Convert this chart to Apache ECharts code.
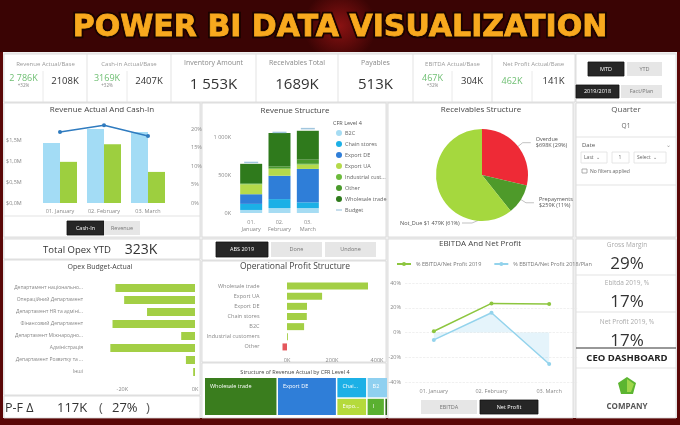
<!DOCTYPE html>
<html><head><meta charset="utf-8">
<script src="https://cdn.jsdelivr.net/npm/echarts@6/dist/echarts.min.js"></script>
<style>html,body{margin:0;padding:0;background:#5a0707;}#c{width:680px;height:425px;}</style>
</head><body><div id="c"></div>
<script>
// ---------- DATA ----------
const months = ['01. January', '02. February', '03. March'];
const revenueActual = [1.43, 1.76, 1.69];          // $M
const cashIn = [0.98, 1.40, 0.74];                 // $M
const revenueGrowthPct = [19.2, 21.0, 18.1];       // %

const rsNames = ['B2C', 'Chain stores', 'Export DE', 'Export UA', 'Industrial customers', 'Other', 'Wholesale trade'];
const rsB2C = [40, 65, 65];
const rsChain = [80, 118, 75];
const rsExportDE = [127, 307, 440];
const rsExportUA = [130, 88, 57];
const rsIndustrial = [5, 10, 10];
const rsOther = [10, 25, 55];
const rsWholesale = [255, 440, 380];
const rsBudget = [665, 1060, 1110];

const recNames = ['Overdue', 'Prepayments', 'Not_Due'];
const recValues = [698, 259, 1479];

const opexDepts = ['Департамент національно...', 'Операційний Департамент', 'Департамент HR та адміні...', 'Фінансовий Департамент', 'Департамент Міжнародно...', 'Адміністрація', 'Департамент Розвитку та ...', 'Інші'];
const opexDelta = [-21.9, -19.5, -13.2, -22.7, -3.8, -23.3, -2.5, -0.5];

const opCats = ['Wholesale trade', 'Export UA', 'Export DE', 'Chain stores', 'B2C', 'Industrial customers', 'Other'];
const opProfit = [360, 156, 89, 88, 76, 4, -20];

const tmNames = ['Wholesale trade', 'Export DE', 'Chain stores', 'Export UA', 'B2C', 'Industrial customers', 'Other'];
const tmValues = [1072, 873, 240, 204, 166, 120, 21];

const ebitda2019 = [1, 23.5, 23];
const ebitda2018 = [-6, 16, -25.5];

const kpiTitles = ['Revenue Actual/Base', 'Cash-in Actual/Base', 'Inventory Amount', 'Receivables Total', 'Payables', 'EBITDA Actual/Base', 'Net Profit Actual/Base'];
const kpiActual = ['2 786K', '3169K', '1 553K', '1689K', '513K', '467K', '462K'];
const kpiBase = ['2108K', '2407K', '', '', '', '304K', '141K'];
const kpiDelta = ['+32%', '+32%', '', '', '', '+32%', ''];
const sideTitles = ['Gross Margin', 'Ebitda 2019, %', 'Net Profit 2019, %'];
const sideValues = ['29%', '17%', '17%'];

// ---------- HELPERS ----------
const FF = "'Open Sans','Noto Sans',sans-serif";
function txt(x, y, s, size, color, o) {
  o = o || {};
  return { type: 'text', x: x, y: y, z: 10, silent: true,
    style: { text: s, fontSize: size, fill: color, fontFamily: o.ff || FF, fontWeight: o.fw || 'normal',
      align: o.al || 'center', verticalAlign: 'middle', textAlign: o.al || 'center', textVerticalAlign: 'middle' } };
}
function rect(x, y, w, h, fill, stroke) {
  return { type: 'rect', z: 0, silent: true, shape: { x: x, y: y, width: w, height: h },
    style: { fill: fill, stroke: stroke || null, lineWidth: stroke ? 0.8 : 0 } };
}
function ln(x1, y1, x2, y2, c, w) {
  return { type: 'line', z: 1, silent: true, shape: { x1: x1, y1: y1, x2: x2, y2: y2 }, style: { stroke: c || '#dcdcdc', lineWidth: w || 0.8 } };
}
function btn(x, y, w, h, label, dark) {
  return [rect(x, y, w, h, dark ? '#262626' : '#e6e6e6', dark ? '#111' : null), txt(x + w / 2, y + h / 2, label, 5.5, dark ? '#fff' : '#777')];
}
function kfmt(v) {
  v = Math.round(v);
  if (Math.abs(v) >= 1000) return Math.floor(v / 1000) + ' ' + String(v % 1000).padStart(3, '0');
  return String(v);
}

// ---------- GRAPHIC (frame, cards, texts) ----------
const G = [];
G.push({ type: 'rect', z: 0, silent: true, shape: { x: 0, y: 0, width: 680, height: 52 },
  style: { fill: new echarts.graphic.RadialGradient(0.5, 0.5, 0.7, [{ offset: 0, color: '#8a1212' }, { offset: 1, color: '#3a0404' }]) } });
const titleStyle = { text: 'POWER BI DATA VISUALIZATION', fontSize: 30, fontWeight: 'bold', fontFamily: "'DejaVu Sans',sans-serif",
  align: 'center', verticalAlign: 'middle', textAlign: 'center', textVerticalAlign: 'middle' };
G.push({ type: 'text', x: 340, y: 28, z: 9, silent: true,
  style: Object.assign({}, titleStyle, { fill: '#2a0600', stroke: '#1a0300', lineWidth: 4.5, shadowBlur: 6, shadowColor: 'rgba(0,0,0,0.9)', shadowOffsetY: 2 }) });
G.push({ type: 'text', x: 340, y: 28, z: 10, silent: true,
  style: Object.assign({}, titleStyle, { fill: '#f8a91e', stroke: '#f6a71c', lineWidth: 0.8 }) });
G.push(rect(3, 52, 674, 366, '#efefef'));

// KPI row
G.push(rect(4, 54, 571, 48, '#fff', '#d6d6d6'));
[87, 171, 256, 338, 413, 492].forEach(function (x) { G.push(ln(x, 54, x, 102)); });
[43, 127, 452, 532].forEach(function (x) { G.push(ln(x, 71, x, 102, '#e4e4e4')); });
const kpiSplit = [[4, 87, 43], [87, 171, 127], null, null, null, [413, 492, 452], [492, 575, 532]];
const kpiBox = [[4, 87], [87, 171], [171, 256], [256, 338], [338, 413], [413, 492], [492, 575]];
kpiTitles.forEach(function (t, i) {
  const b = kpiBox[i];
  const s = kpiSplit[i];
  if (s) {
    G.push(txt((b[0] + b[1]) / 2, 64, t, 6, '#9a9a9a'));
    const cA = (s[0] + s[2]) / 2, cB = (s[2] + s[1]) / 2;
    G.push(txt(cA, kpiDelta[i] ? 78 : 81, kpiActual[i], 9, '#6fbf73'));
    if (kpiDelta[i]) G.push(txt(cA, 85.5, kpiDelta[i], 4.5, '#888'));
    G.push(txt(cB, 81, kpiBase[i], 9.5, '#333'));
  } else {
    G.push(txt((b[0] + b[1]) / 2, 63, t, 7, '#8a8a8a'));
    G.push(txt((b[0] + b[1]) / 2, 85, kpiActual[i], 15, '#333'));
  }
});
// top-right buttons
G.push(rect(576, 54, 100, 48, '#fff', '#d6d6d6'));
G.push.apply(G, btn(588, 62, 36, 14, 'MTD', true));
G.push.apply(G, btn(627, 62, 35, 14, 'YTD', false));
G.push.apply(G, btn(576, 85, 43, 13, '2019/2018', true));
G.push.apply(G, btn(621, 85, 41, 13, 'Fact/Plan', false));

// Row 2 panels
G.push(rect(4, 103, 196, 134, '#fff', '#d6d6d6'));
G.push(ln(4, 216, 200, 216));
G.push.apply(G, btn(67, 221, 37, 14, 'Cash-In', true));
G.push.apply(G, btn(104, 221, 36, 14, 'Revenue', false));
G.push(txt(102, 110, 'Revenue Actual And Cash-In', 8, '#444'));
G.push(rect(202, 103, 184, 134, '#fff', '#d6d6d6'));
G.push(txt(295, 111, 'Revenue Structure', 8, '#444'));
G.push(txt(333, 123, 'CFR Level 4', 5.5, '#555', { al: 'left' }));
G.push(rect(388, 103, 185, 134, '#fff', '#d6d6d6'));
G.push(txt(481, 110, 'Receivables Structure', 8, '#444'));
G.push(rect(576, 103, 100, 134, '#fff', '#d6d6d6'));
G.push(txt(626, 110, 'Quarter', 8, '#555'));
G.push(txt(626, 126, 'Q1', 6.5, '#666'));
G.push(ln(576, 137, 676, 137));
G.push(txt(582, 145, 'Date', 6, '#555', { al: 'left' }));
G.push(txt(668, 145, '⌄', 6, '#999'));
G.push(rect(581, 152, 26, 11, '#fff', '#e0e0e0'));
G.push(txt(584, 157.5, 'Last  ⌄', 5, '#666', { al: 'left' }));
G.push(rect(612, 152, 17, 11, '#fff', '#e0e0e0'));
G.push(txt(620, 157.5, '1', 5, '#666'));
G.push(rect(634, 152, 32, 11, '#fff', '#e0e0e0'));
G.push(txt(637, 157.5, 'Select  ⌄', 5, '#666', { al: 'left' }));
G.push(rect(582, 169, 5, 4, '#fff', '#999'));
G.push(txt(590, 171.5, 'No filters applied', 5, '#666', { al: 'left' }));
G.push(ln(576, 185, 676, 185));

// Row 3 left
G.push(rect(4, 239, 196, 20, '#fff', '#d6d6d6'));
G.push(txt(77, 250, 'Total Opex YTD', 9.5, '#333'));
G.push(txt(141, 250, '323K', 14, '#333'));
G.push(rect(4, 260, 196, 135, '#fff', '#d6d6d6'));
G.push(txt(100, 267, 'Opex Budget-Actual', 7, '#444'));
G.push(rect(4, 396, 196, 22, '#fff', '#d6d6d6'));
G.push(txt(5, 408, 'P-F Δ', 12.5, '#333', { al: 'left' }));
G.push(txt(57, 408, '117K', 13, '#333', { al: 'left' }));
G.push(txt(101, 408, '(', 13, '#555'));
G.push(txt(112, 408, '27%', 13, '#333', { al: 'left' }));
G.push(txt(148, 408, ')', 13, '#555'));

// Row 3 middle
G.push(rect(202, 239, 184, 21, '#fff', '#d6d6d6'));
G.push.apply(G, btn(216, 242, 52, 15, 'ABS 2019', true));
G.push.apply(G, btn(271, 242, 51, 15, 'Done', false));
G.push.apply(G, btn(325, 242, 51, 15, 'Undone', false));
G.push(rect(202, 261, 184, 101, '#fff', '#d6d6d6'));
G.push(txt(295, 267, 'Operational Profit Structure', 8.5, '#444'));
G.push(rect(202, 363, 184, 55, '#fff', '#d6d6d6'));
G.push(txt(295, 372, 'Structure of Revenue Actual by CFR Level 4', 5.5, '#444'));

// Row 3 EBITDA
G.push(rect(388, 239, 185, 179, '#fff', '#d6d6d6'));
G.push(txt(480, 244, 'EBITDA And Net Profit', 8, '#444'));
G.push.apply(G, btn(421, 400, 56, 14, 'EBITDA', false));
G.push.apply(G, btn(480, 400, 58, 14, 'Net Profit', true));

// Row 3 right
G.push(rect(576, 239, 100, 179, '#fff', '#d6d6d6'));
sideTitles.forEach(function (t, i) {
  const y0 = [245, 283, 322][i];
  G.push(txt(627, y0, t, 6.5, '#aaa'));
  G.push(txt(627, y0 + 19, sideValues[i], 17, '#333'));
});
G.push(ln(576, 275, 676, 275));
G.push(ln(576, 312, 676, 312));
G.push(ln(576, 348, 676, 348, '#333', 1.2));
G.push(txt(627, 358, 'CEO DASHBOARD', 9.5, '#222', { fw: 'bold' }));
G.push(ln(576, 368, 676, 368));
// logo
G.push({ type: 'polygon', z: 5, silent: true, shape: { points: [[627, 377], [636, 383], [633, 394], [621, 394], [618, 383]] }, style: { fill: '#5cb531' } });
G.push({ type: 'polygon', z: 6, silent: true, shape: { points: [[627, 379], [634, 384], [631, 392], [627, 392]] }, style: { fill: '#9ed64a' } });
G.push(ln(622, 386, 632, 386, '#fff', 0.8));
G.push(ln(621, 390, 633, 390, '#fff', 0.8));
G.push(ln(627, 378, 627, 394, '#fff', 0.6));
G.push(txt(627, 407, 'COMPANY', 8, '#555', { fw: 'bold' }));

// ---------- CHART ----------
const AX = { fontSize: 5.5, color: '#888', fontFamily: FF };
const chart = echarts.init(document.getElementById('c'), null, { renderer: 'canvas' });
const rsColors = ['#a6dcf3', '#1cb0e6', '#2f7ed8', '#b5da4a', '#6cbb3c', '#4a9a2c', '#2f7a1c'];
const rsData = [rsB2C, rsChain, rsExportDE, rsExportUA, rsIndustrial, rsOther, rsWholesale];

const series = [
  { type: 'bar', name: 'Revenue', xAxisIndex: 0, yAxisIndex: 0, data: revenueActual, barWidth: 17, barGap: '0%', itemStyle: { color: '#a3dcf5' } },
  { type: 'bar', name: 'Cash-In', xAxisIndex: 0, yAxisIndex: 0, data: cashIn, barWidth: 17, itemStyle: { color: '#9dcf3f' } },
  { type: 'line', name: 'Growth %', xAxisIndex: 0, yAxisIndex: 1, data: revenueGrowthPct, symbol: 'circle', symbolSize: 4, itemStyle: { color: '#2f7bbf' }, lineStyle: { width: 1.5, color: '#2f7bbf' } }
];
rsNames.forEach(function (n, i) {
  series.push({ type: 'bar', name: n, stack: 'rs', xAxisIndex: 1, yAxisIndex: 2, data: rsData[i], barWidth: 22, itemStyle: { color: rsColors[i] } });
});
series.push({ type: 'scatter', name: 'Budget', xAxisIndex: 1, yAxisIndex: 2, data: rsBudget, symbol: 'rect', symbolSize: [14, 1.5], itemStyle: { color: '#8ab8d6' }, z: 5 });
series.push({ type: 'bar', name: 'Opex', xAxisIndex: 2, yAxisIndex: 3, data: opexDelta, barWidth: 8, itemStyle: { color: '#a3cf45' } });
series.push({ type: 'bar', name: 'Operational Profit', xAxisIndex: 3, yAxisIndex: 4, barWidth: 7,
  data: opProfit.map(function (v) { return { value: v, itemStyle: { color: v < 0 ? '#e4575c' : '#a3cf45' } }; }) });
series.push({ type: 'line', name: '% EBITDA/Net Profit 2019', xAxisIndex: 4, yAxisIndex: 5, data: ebitda2019, symbol: 'circle', symbolSize: 4,
  itemStyle: { color: '#8dc63f' }, lineStyle: { width: 1.5, color: '#8dc63f' }, z: 4 });
series.push({ type: 'line', name: '% EBITDA/Net Profit 2018/Plan', xAxisIndex: 4, yAxisIndex: 5, data: ebitda2018, symbol: 'circle', symbolSize: 4,
  itemStyle: { color: '#93d3ec' }, lineStyle: { width: 1.5, color: '#93d3ec' }, areaStyle: { color: 'rgba(160,215,240,0.4)' } });
series.push({ type: 'pie', name: 'Receivables', center: [482, 175], radius: 46, startAngle: 90,
  data: recNames.map(function (n, i) { return { name: n, value: recValues[i], itemStyle: { color: ['#ee2a36', '#4e9a2a', '#a5d83e'][i] } }; }),
  label: { fontSize: 5.5, color: '#555', fontFamily: FF,
    formatter: function (p) { const s = '$' + kfmt(p.value) + 'K (' + Math.round(p.percent) + '%)'; return p.dataIndex === 2 ? p.name + ' ' + s : p.name + '\n' + s; } },
  labelLine: { length: 6, length2: 8, lineStyle: { color: '#999', width: 0.6 } },
  labelLayout: function (p) {
    if (p.dataIndex === 2) {
      return { x: 400, y: 223, align: 'left', verticalAlign: 'middle',
        labelLinePoints: [[462, 223], [472, 223], [478, 220.5]] };
    }
    return {};
  } });
series.push({ type: 'treemap', name: 'CFR', left: 205, top: 378, width: 182, height: 37, roam: false, nodeClick: false,
  breadcrumb: { show: false }, itemStyle: { gapWidth: 1.5, borderWidth: 0 },
  label: { show: true, position: 'insideTopLeft', fontSize: 5.5, color: '#fff', fontFamily: FF, overflow: 'truncate', ellipsis: '...' },
  data: tmNames.map(function (n, i) { return { name: n, value: tmValues[i], itemStyle: { color: ['#3a7d1e', '#2f7ed8', '#1cb0e6', '#b5da3c', '#8fd0f0', '#5ab030', '#2f6a1a'][i] } }; }) });

chart.setOption({
  animation: false,
  textStyle: { fontFamily: FF },
  graphic: { elements: G },
  grid: [
    { left: 38, right: 510, top: 119, bottom: 222 },
    { left: 237, right: 358, top: 118, bottom: 212 },
    { left: 86, right: 485, top: 282, bottom: 47 },
    { left: 264.5, right: 303, top: 281, bottom: 73 },
    { left: 405, right: 102, top: 283, bottom: 43 }
  ],
  xAxis: [
    { gridIndex: 0, type: 'category', data: months, axisLine: { show: false }, axisTick: { show: false }, axisLabel: Object.assign({ margin: 5, interval: 0 }, AX) },
    { gridIndex: 1, type: 'category', data: months, axisLine: { show: false }, axisTick: { show: false },
      axisLabel: Object.assign({ margin: 6, interval: 0, lineHeight: 7, formatter: function (v) { return v.replace('. ', '.\n'); } }, AX) },
    { gridIndex: 2, type: 'value', min: -30, max: 0, interval: 10, axisLine: { show: false }, axisTick: { show: false }, splitLine: { show: false },
      axisLabel: Object.assign({ margin: 8, formatter: function (v) { return (v === -20 || v === 0) ? v + 'K' : ''; } }, AX) },
    { gridIndex: 3, type: 'value', min: -100, max: 400, interval: 100, axisLine: { show: false }, axisTick: { show: false }, splitLine: { show: false },
      axisLabel: Object.assign({ margin: 5, formatter: function (v) { return (v % 200 === 0 && v >= 0) ? v + 'K' : ''; } }, AX) },
    { gridIndex: 4, type: 'category', data: months, boundaryGap: true, axisLine: { show: false }, axisTick: { show: false }, axisLabel: Object.assign({ margin: 6, interval: 0 }, AX) }
  ],
  yAxis: [
    { gridIndex: 0, type: 'value', min: 0, max: 2, interval: 0.5, splitLine: { show: false }, axisLine: { show: false }, axisTick: { show: false },
      axisLabel: Object.assign({ align: 'left', formatter: function (v) { return v > 1.5 ? '' : '$' + v.toFixed(1).replace('.', ',') + 'M'; } }, AX, { margin: 32 }) },
    { gridIndex: 0, type: 'value', position: 'right', min: 0, max: 22.7, interval: 5, splitLine: { show: false }, axisLine: { show: false }, axisTick: { show: false },
      axisLabel: Object.assign({ margin: 21, formatter: function (v) { return v > 20 ? '' : v + '%'; } }, AX) },
    { gridIndex: 1, type: 'value', min: 0, max: 1250, interval: 500, splitLine: { show: false }, axisLine: { show: false }, axisTick: { show: false },
      axisLabel: Object.assign({ margin: 6, formatter: function (v) { return v > 1000 ? '' : kfmt(v) + 'K'; } }, AX) },
    { gridIndex: 2, type: 'category', inverse: true, data: opexDepts, axisLine: { show: false }, axisTick: { show: false },
      axisLabel: Object.assign({ margin: 3, interval: 0 }, AX, { fontSize: 5, color: '#888' }) },
    { gridIndex: 3, type: 'category', inverse: true, data: opCats, axisLine: { show: false }, axisTick: { show: false },
      axisLabel: Object.assign({ margin: 5, interval: 0 }, AX, { fontSize: 5.5 }) },
    { gridIndex: 4, type: 'value', min: -40, max: 40, interval: 20, axisLine: { show: false }, axisTick: { show: false },
      splitLine: { lineStyle: { type: 'dashed', color: '#e6e6e6', width: 0.6 } },
      axisLabel: Object.assign({ margin: 4, formatter: '{value}%' }, AX) }
  ],
  legend: [
    { data: rsNames.map(function (n) { return { name: n, icon: 'circle' }; }).concat([{ name: 'Budget', icon: 'path://M0,4 L10,4 L10,6 L0,6 Z' }]),
      left: 331, top: 125, orient: 'vertical', itemWidth: 6, itemHeight: 6, itemGap: 5, selectedMode: false,
      textStyle: { fontSize: 5.5, color: '#666', padding: [0, 0, 0, -2] },
      formatter: function (n) { return n.length > 16 ? n.slice(0, 15) + '...' : n; } },
    { data: ['% EBITDA/Net Profit 2019', '% EBITDA/Net Profit 2018/Plan'], left: 391, top: 256, itemWidth: 14, itemHeight: 5, itemGap: 12, selectedMode: false,
      textStyle: { fontSize: 5.5, color: '#777' } }
  ],
  series: series
});
</script></body></html>
